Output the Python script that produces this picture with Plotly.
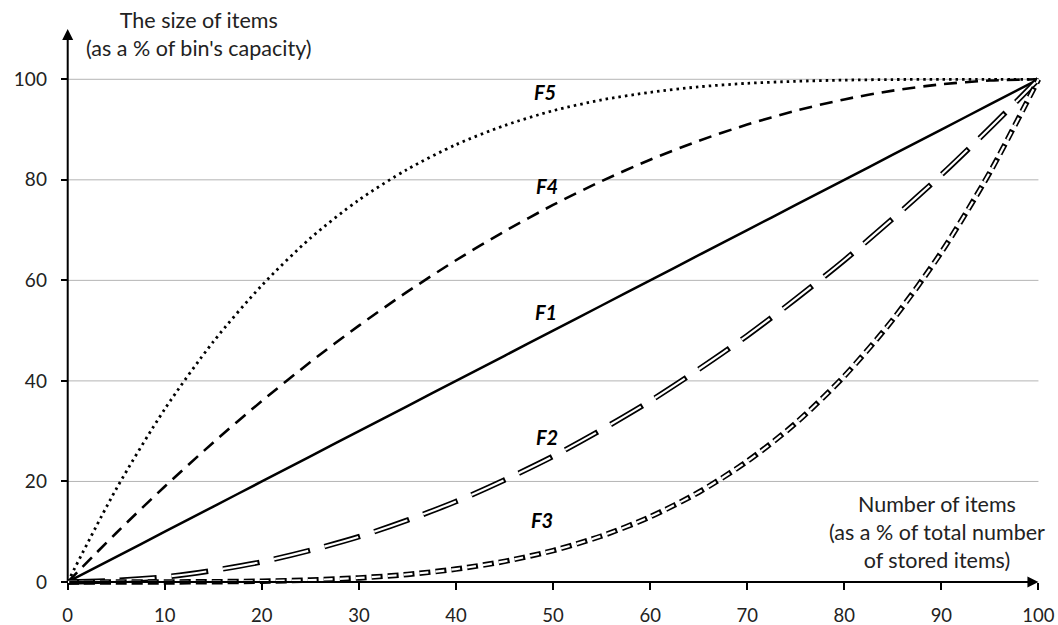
import plotly.graph_objects as go

# Data (x = number of items, % of total)
x_vals = [0, 5, 10, 15, 20, 25, 30, 35, 40, 45, 50, 55, 60, 65, 70, 75, 80, 85, 90, 95, 100]
f1 = [0, 5, 10, 15, 20, 25, 30, 35, 40, 45, 50, 55, 60, 65, 70, 75, 80, 85, 90, 95, 100]
f2 = [0, 0.3, 1, 2.3, 4, 6.3, 9, 12.3, 16, 20.3, 25, 30.3, 36, 42.3, 49, 56.3, 64, 72.3, 81, 90.3, 100]
f3 = [0, 0, 0.01, 0.05, 0.16, 0.39, 0.81, 1.5, 2.56, 4.1, 6.25, 9.15, 12.96, 17.85, 24.0, 31.6, 40.96, 52.2, 65.6, 81.5, 100]
f4 = [0, 9.75, 19, 27.75, 36, 43.75, 51, 57.75, 64, 69.75, 75, 79.75, 84, 87.75, 91, 93.75, 96, 97.75, 99, 99.75, 100]
f5 = [0, 18.5, 34.4, 47.8, 59.0, 68.4, 76.0, 82.1, 87.0, 90.8, 93.75, 95.9, 97.4, 98.5, 99.2, 99.6, 99.84, 99.95, 99.99, 100, 100]

x_ticks = [0, 10, 20, 30, 40, 50, 60, 70, 80, 90, 100]
y_ticks = [0, 20, 40, 60, 80, 100]

labels = ["F5", "F4", "F1", "F2", "F3"]
label_x = [49.2, 49.4, 49.3, 49.4, 48.9]
label_y = [97.4, 78.7, 53.7, 28.8, 12.3]

FONT = "Lato"
X_MIN, X_MAX = -1.0, 101.5
Y_MIN, Y_MAX = -1.0, 111.0

fig = go.Figure()

# gridlines (drawn only across the data extent)
for v in y_ticks[1:]:
    fig.add_shape(type="line", xref="x", yref="y", x0=x_ticks[0], x1=x_ticks[-1], y0=v, y1=v,
                  line=dict(color="#b4b4b4", width=1), layer="below")

def add(y, width, dash, color="black"):
    fig.add_trace(go.Scatter(x=x_vals, y=y, mode="lines",
                             line=dict(color=color, width=width, dash=dash, shape="spline", smoothing=0.8),
                             showlegend=False, hoverinfo="skip"))

add(f1, 2.5, "solid")
add(f4, 2.6, "13px,8px")
add(f5, 2.8, "2.5px,4px")
# outlined dashes (F2, F3)
add(f2, 5.5, "37px,15px")
add(f2, 2.2, "35px,17px", "white")
add(f3, 5.5, "11px,5px")
add(f3, 2.2, "9px,7px", "white")

# axis arrows
fig.add_annotation(x=0, y=110, ax=0, ay=0, xref="x", yref="y", axref="x", ayref="y",
                   showarrow=True, arrowhead=2, arrowsize=1.1, arrowwidth=2, arrowcolor="black", text="")
fig.add_annotation(x=100, y=0, ax=0, ay=0, xref="x", yref="y", axref="x", ayref="y",
                   showarrow=True, arrowhead=2, arrowsize=1.1, arrowwidth=2, arrowcolor="black", text="")

# curve labels
for t, lx, ly in zip(labels, label_x, label_y):
    fig.add_annotation(x=lx, y=ly, xref="x", yref="y", text=f"<b><i>{t}</i></b>", showarrow=False,
                       font=dict(family=FONT, size=20, color="black"))

fig.update_layout(
    width=1058, height=625,
    margin=dict(l=58, r=5, t=24, b=38, autoexpand=False),
    plot_bgcolor="white", paper_bgcolor="white",
    font=dict(family=FONT, size=19, color="#222222"),
    xaxis=dict(range=[X_MIN, X_MAX], tickvals=x_ticks, showgrid=False, zeroline=False, showline=False,
               automargin=False, tickfont=dict(size=18.5),
               ticks="outside", ticklen=7, tickwidth=1.5, tickcolor="black",
               anchor="free", position=(0 - Y_MIN) / (Y_MAX - Y_MIN), ticklabelstandoff=10),
    yaxis=dict(range=[Y_MIN, Y_MAX], tickvals=y_ticks, showgrid=False, zeroline=False, showline=False,
               automargin=False,
               ticks="outside", ticklen=7, tickwidth=1.5, tickcolor="black",
               anchor="free", position=(0 - X_MIN) / (X_MAX - X_MIN), ticklabelstandoff=10),
)

# axis titles
fig.add_annotation(x=13.5, y=109, xref="x", yref="y", showarrow=False, align="center",
                   text="The size of items<br>(as a % of bin's capacity)",
                   font=dict(family=FONT, size=21.5, color="#222222"))
fig.add_annotation(x=89.6, y=10, xref="x", yref="y", showarrow=False, align="center",
                   text="Number of items<br>(as a % of total number<br>of stored items)",
                   font=dict(family=FONT, size=21.5, color="#222222"))

fig.write_html("out.html", config={"displayModeBar": False},
               post_script="document.body.style.margin='0';document.body.style.overflow='hidden';")
